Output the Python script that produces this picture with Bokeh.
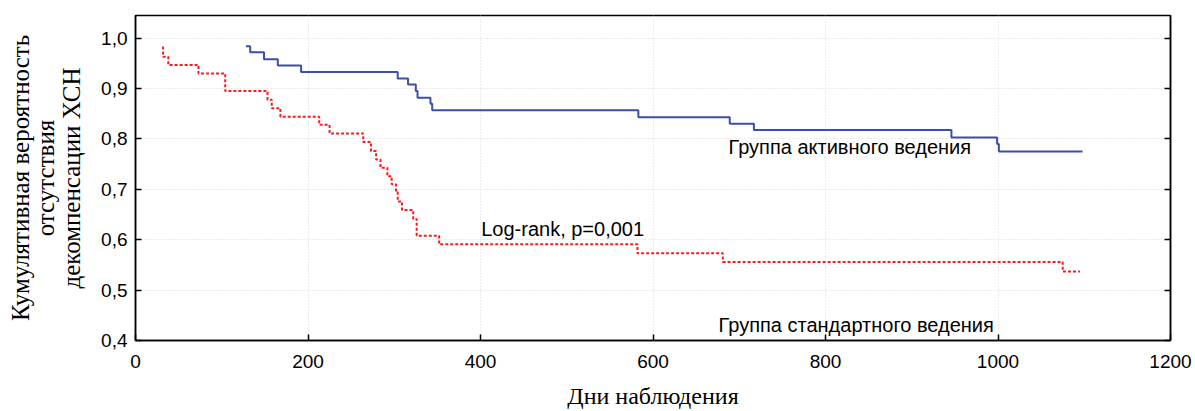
from bokeh.plotting import figure
from bokeh.models import LinearAxis, FixedTicker, CustomJSTickFormatter, Range1d
from bokeh.core.properties import value
from bokeh.embed import file_html
from bokeh.resources import INLINE

# Group of active management (blue)
active_days = [128, 133, 149, 165, 192, 304, 316, 325, 327, 342, 344, 583, 689, 717, 946, 999, 1001, 1098]
active_surv = [0.984, 0.972, 0.958, 0.946, 0.933, 0.920, 0.908, 0.895, 0.882, 0.870, 0.857, 0.843,
               0.830, 0.818, 0.803, 0.790, 0.775, 0.775]

# Group of standard management (red)
standard_days = [31, 32, 38, 73, 104, 153, 158, 168, 213, 225, 264, 273, 279, 284, 292, 297, 302,
                 304, 309, 322, 326, 352, 582, 681, 1075, 1095]
standard_surv = [0.982, 0.963, 0.947, 0.930, 0.895, 0.878, 0.861, 0.844, 0.828, 0.811, 0.794, 0.776,
                 0.759, 0.743, 0.726, 0.710, 0.694, 0.676, 0.659, 0.641, 0.608, 0.591, 0.573, 0.556,
                 0.537, 0.537]

x_ticks = [0, 200, 400, 600, 800, 1000, 1200]
y_ticks = [0.4, 0.5, 0.6, 0.7, 0.8, 0.9, 1.0]

SANS = "Liberation Sans"
SERIF = "Liberation Serif"

p = figure(width=1195, height=411, output_backend="svg", toolbar_location=None,
           x_range=Range1d(0, 1200), y_range=Range1d(0.4, 1.045),
           min_border_left=135, min_border_top=15, min_border_right=25, min_border_bottom=69)

p.outline_line_color = "black"
p.outline_line_width = 1.5
p.background_fill_color = "white"
p.border_fill_color = "white"

fmt = CustomJSTickFormatter(code="return tick.toFixed(1).replace('.', ',');")

for ax in p.xaxis:
    ax.ticker = FixedTicker(ticks=x_ticks)
    ax.axis_label = "Дни наблюдения"
    ax.axis_label_text_font = SERIF
    ax.axis_label_text_font_size = "24px"
    ax.axis_label_text_font_style = "normal"
    ax.axis_label_text_color = "black"
    ax.axis_label_text_line_height = 0.8
    ax.axis_label_standoff = 12
    ax.major_label_text_font = SANS
    ax.major_label_text_font_size = "19px"
    ax.major_label_text_color = "black"
    ax.major_label_standoff = 14
    ax.major_tick_in = 6
    ax.major_tick_out = 0
    ax.minor_tick_line_color = None
    ax.axis_line_width = 1.5
    ax.major_tick_line_width = 1.5

for ax in p.yaxis:
    ax.ticker = FixedTicker(ticks=y_ticks)
    ax.formatter = fmt
    ax.axis_label = "Кумулятивная вероятность\nотсутствия\nдекомпенсации ХСН"
    ax.axis_label_text_font = SERIF
    ax.axis_label_text_font_size = "25px"
    ax.axis_label_text_font_style = "normal"
    ax.axis_label_text_color = "black"
    ax.axis_label_text_line_height = 0.95
    ax.axis_label_standoff = 13
    ax.major_label_text_font = SANS
    ax.major_label_text_font_size = "19px"
    ax.major_label_text_color = "black"
    ax.major_label_standoff = 8
    ax.major_tick_in = 6
    ax.major_tick_out = 0
    ax.minor_tick_line_color = None
    ax.axis_line_width = 1.5
    ax.major_tick_line_width = 1.5

right = LinearAxis(ticker=FixedTicker(ticks=y_ticks),
                   formatter=CustomJSTickFormatter(code="return '';"),
                   major_tick_in=6, major_tick_out=0, minor_tick_line_color=None,
                   axis_line_width=1.5, major_tick_line_width=1.5, major_label_standoff=0)
p.add_layout(right, "right")

p.xgrid.ticker = FixedTicker(ticks=x_ticks)
p.ygrid.ticker = FixedTicker(ticks=y_ticks)
for g in (p.xgrid, p.ygrid):
    g.grid_line_color = "#d8d8d8"
    g.grid_line_dash = "1 2"
    g.grid_line_width = 1

p.step(active_days, active_surv, mode="after", line_color="#3c4fa6", line_width=2)
p.step(standard_days, standard_surv, mode="after", line_color="#ff1a1a", line_width=2,
       line_dash="3 2")

p.text(x=[687.5], y=[0.784], text=["Группа активного ведения"], text_font=value(SANS),
       text_font_size="20px", text_align="left", text_baseline="alphabetic", text_color="black")
p.text(x=[400.8], y=[0.621], text=["Log-rank, p=0,001"], text_font=value(SANS),
       text_font_size="20px", text_align="left", text_baseline="alphabetic", text_color="black")
p.text(x=[676], y=[0.4306], text=["Группа стандартного ведения"], text_font=value(SANS),
       text_font_size="20px", text_align="left", text_baseline="alphabetic", text_color="black")

open("out.html", "w").write(file_html(p, INLINE))
